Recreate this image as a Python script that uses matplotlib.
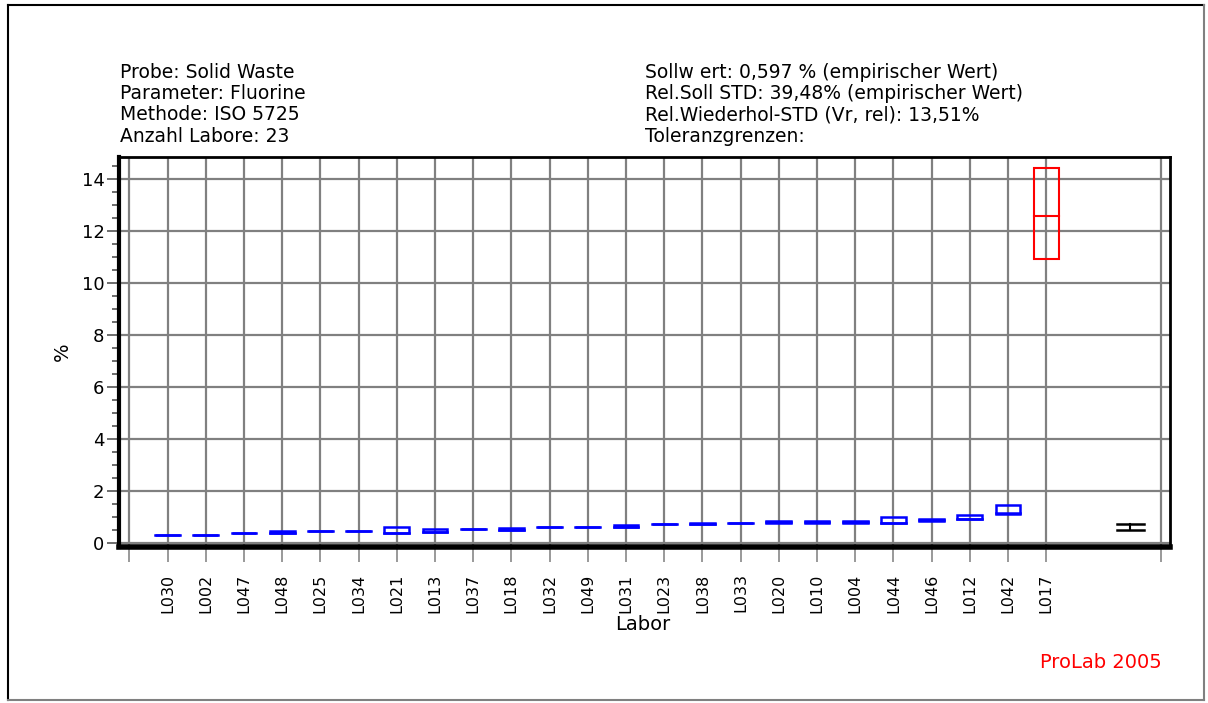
import matplotlib.pyplot as plt
import matplotlib.patches as mpatches
import numpy as np

plt.rcParams['font.family'] = ['DejaVu Sans']

# Labore in der Reihenfolge des Diagramms
labore = ["L030", "L002", "L047", "L048", "L025", "L034", "L021", "L013",
          "L037", "L018", "L032", "L049", "L031", "L023", "L038", "L033",
          "L020", "L010", "L004", "L044", "L046", "L012", "L042", "L017"]
# min / median / max je Labor (%)
werte_min = [0.30, 0.30, 0.38, 0.36, 0.45, 0.45, 0.37, 0.42, 0.53, 0.50, 0.59, 0.59,
             0.60, 0.71, 0.71, 0.77, 0.76, 0.76, 0.77, 0.77, 0.85, 0.91, 1.10, 10.89]
werte_med = [0.30, 0.30, 0.38, 0.36, 0.45, 0.45, 0.37, 0.42, 0.53, 0.50, 0.59, 0.59,
             0.60, 0.71, 0.73, 0.77, 0.79, 0.79, 0.80, 0.77, 0.87, 0.91, 1.16, 12.58]
werte_max = [0.30, 0.30, 0.38, 0.46, 0.45, 0.45, 0.60, 0.51, 0.53, 0.58, 0.59, 0.59,
             0.69, 0.71, 0.76, 0.77, 0.82, 0.82, 0.83, 0.97, 0.90, 1.07, 1.45, 14.41]
ausreisser = ["L017"]
# Sollwert-Bereich (schwarz, rechts)
soll_lo, soll_hi = 0.50, 0.71

kopf_links = ["Probe: Solid Waste", "Parameter: Fluorine", "Methode: ISO 5725",
              "Anzahl Labore: 23"]
kopf_rechts = ["Sollw ert: 0,597 % (empirischer Wert)",
               "Rel.Soll STD: 39,48% (empirischer Wert)",
               "Rel.Wiederhol-STD (Vr, rel): 13,51%",
               "Toleranzgrenzen:"]

W, H = 1208, 703
fig = plt.figure(figsize=(W / 100, H / 100), dpi=100)
ax = fig.add_axes([119 / W, 1 - 547 / H, (1170 - 119) / W, (547 - 157) / H])

breite = 0.65
x = np.arange(1, len(labore) + 1)
for i, lab in enumerate(labore):
    farbe = "red" if lab in ausreisser else "blue"
    lw = 1.5 if lab in ausreisser else 1.8
    lo, md, hi = werte_min[i], werte_med[i], werte_max[i]
    ax.add_patch(mpatches.Rectangle((x[i] - breite / 2, lo), breite, hi - lo,
                                    fill=False, edgecolor=farbe, linewidth=lw, zorder=3))
    ax.plot([x[i] - breite / 2, x[i] + breite / 2], [md, md], color=farbe, lw=lw, zorder=3)

# Sollwert-Markierung
xs = 26.2
ax.plot([xs - 0.35, xs + 0.35], [soll_hi, soll_hi], color="black", lw=1.8, zorder=3)
ax.plot([xs - 0.35, xs + 0.35], [soll_lo, soll_lo], color="black", lw=1.8, zorder=3)
ax.plot([xs, xs], [soll_lo, soll_hi], color="black", lw=1.5, zorder=3)

ax.set_xlim(-0.27, 27.24)
ax.set_ylim(-0.165, 14.83)

xticks = list(range(0, len(labore) + 1)) + [27]
ax.set_xticks(xticks)
ax.set_xticklabels([""] + labore + [""], rotation=90, fontsize=11.5)
ax.set_yticks(np.arange(0, 15, 2))
ax.set_yticks(np.arange(0, 14.8, 0.5), minor=True)
ax.tick_params(axis='y', which='major', length=9, width=1.2, labelsize=13,
               color='#555555', pad=1.5)
ax.tick_params(axis='y', which='minor', length=5, width=1.2, color='#555555')
ax.tick_params(axis='x', which='major', length=11, width=1.2, color='#888888', pad=8)
ax.grid(True, which='major', color='#808080', linewidth=1.6, zorder=0)
ax.set_axisbelow(True)

ax.spines['left'].set_linewidth(3)
ax.spines['bottom'].set_linewidth(4)
ax.spines['top'].set_linewidth(2)
ax.spines['right'].set_linewidth(2)

fig.text(62 / W, 1 - 352 / H, "%", fontsize=14, rotation=90, ha='center', va='center')
fig.text(643 / W, 1 - 624 / H, "Labor", fontsize=14, ha='center', va='center')

for k, t in enumerate(kopf_links):
    fig.text(120 / W, 1 - (72 + k * 21.5) / H, t, fontsize=13.5, va='center', ha='left')
for k, t in enumerate(kopf_rechts):
    fig.text(645 / W, 1 - (72 + k * 21.5) / H, t, fontsize=13.5, va='center', ha='left')

fig.text(1162 / W, 1 - 662 / H, "ProLab 2005", color="red", fontsize=14,
         ha='right', va='center')

# Rahmen um die Grafik
x0, x1, y0, y1 = 8 / W, 1204 / W, 1 - 700 / H, 1 - 5 / H
fig.add_artist(plt.Line2D([x0, x0], [y0, y1], color='black', lw=1.5))
fig.add_artist(plt.Line2D([x0, x1], [y1, y1], color='black', lw=1.5))
fig.add_artist(plt.Line2D([x1, x1], [y0, y1], color='#808080', lw=1.5))
fig.add_artist(plt.Line2D([x0, x1], [y0, y0], color='#808080', lw=1.5))

fig.savefig("out.png", dpi=100)
